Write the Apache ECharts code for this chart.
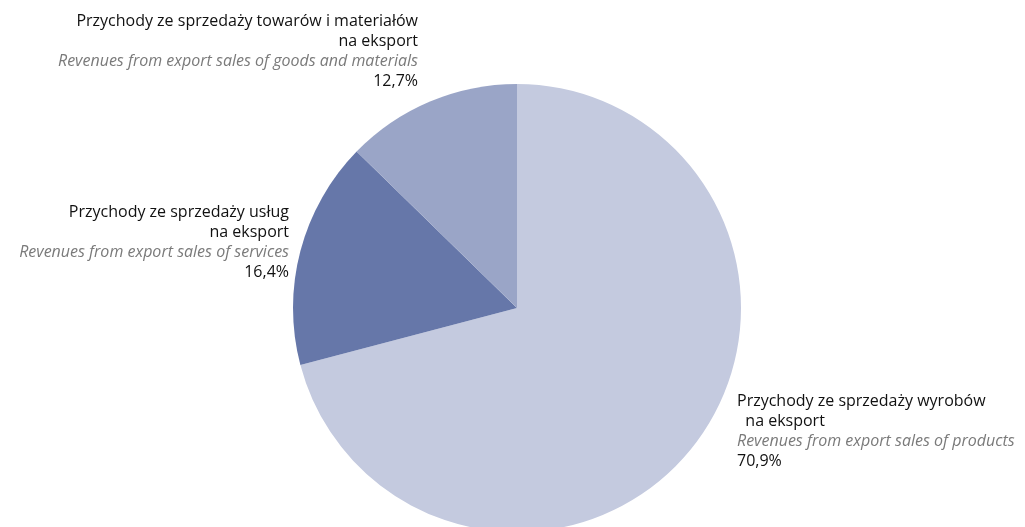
<!DOCTYPE html>
<html>
<head>
<meta charset="utf-8">
<script src="https://cdn.jsdelivr.net/npm/echarts@6/dist/echarts.min.js"></script>
<style>
html,body{margin:0;padding:0;background:#fff;}
#c{width:1025px;height:527px;}
</style>
</head>
<body>
<div id="c"></div>
<script>
var namesPl = ['Przychody ze sprzedaży wyrobów\n  na eksport', 'Przychody ze sprzedaży usług\nna eksport', 'Przychody ze sprzedaży towarów i materiałów\nna eksport'];
var namesEn = ['Revenues from export sales of products', 'Revenues from export sales of services', 'Revenues from export sales of goods and materials'];
var values = [70.9, 16.4, 12.7];
var valueLabels = ['70,9%', '16,4%', '12,7%'];
var colors = ['#c4cadf', '#6677a9', '#9aa5c7'];

var labelPos = [
  {x: 737, y: 391, align: 'left'},
  {x: 289, y: 202, align: 'right'},
  {x: 418, y: 11, align: 'right'}
];

var chart = echarts.init(document.getElementById('c'), null, {renderer: 'canvas'});
var data = values.map(function (v, i) {
  return {value: v, name: namesEn[i], itemStyle: {color: colors[i]}};
});
var FS = 16;
chart.setOption({
  animation: false,
  series: [{
    type: 'pie',
    center: [517, 308],
    radius: 224,
    startAngle: 90,
    clockwise: true,
    silent: true,
    data: data,
    itemStyle: {borderWidth: 0},
    labelLine: {show: false},
    label: {
      show: true,
      position: 'outside',
      overflow: 'none',
      fontFamily: 'Open Sans',
      fontSize: FS,
      lineHeight: 20,
      color: '#111',
      formatter: function (p) {
        var i = p.dataIndex;
        var pl = namesPl[i].split('\n').map(function (s) { return '{pl|' + s + '}'; }).join('\n');
        return pl + '\n{en|' + namesEn[i] + '}\n{v|' + valueLabels[i] + '}';
      },
      rich: {
        pl: {fontFamily: 'Open Sans', fontSize: FS, lineHeight: 20, color: '#111'},
        en: {fontFamily: 'Open Sans', fontSize: FS, lineHeight: 20, color: '#7a7a7a', fontStyle: 'italic'},
        v: {fontFamily: 'Open Sans', fontSize: FS, lineHeight: 20, color: '#111'}
      }
    },
    labelLayout: function (p) {
      var lp = labelPos[p.dataIndex];
      return {x: lp.x, y: lp.y, align: lp.align, verticalAlign: 'top'};
    }
  }]
});
</script>
</body>
</html>
